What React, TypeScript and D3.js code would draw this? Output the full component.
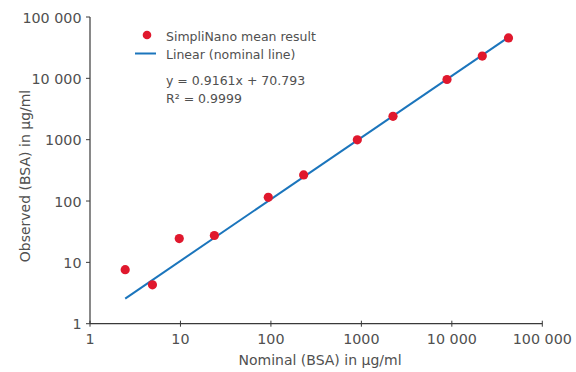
import React from "react";
import * as d3 from "d3";

const nominal = [2.45, 4.9, 9.7, 23.7, 93.5, 230, 902, 2237, 8840, 21700, 42300];
const observed = [7.6, 4.3, 24.4, 27.4, 115, 266, 995, 2405, 9570, 23100, 45600];
const lineX = [2.45, 42100];
const lineY = [2.57, 46500];
const xTicks = [1, 10, 100, 1000, 10000, 100000];
const yTicks = [1, 10, 100, 1000, 10000, 100000];
const legendLabels = ["SimpliNano mean result", "Linear (nominal line)"];
const equationLines = ["y = 0.9161x + 70.793", "R² = 0.9999"];

const RED = "#e0182d";
const BLUE = "#1b75bc";
const AXIS = "#3a3a3a";
const TEXT = "#505050";
const FONT = "'DejaVu Sans', sans-serif";

const fmt = (v: number) => (v >= 10000 ? d3.format(",")(v).replace(/,/g, " ") : String(v));

export default function App() {
  const W = 576, H = 372;
  const x = d3.scaleLog().domain([1, 100000]).range([90, 542.3]);
  const y = d3.scaleLog().domain([1, 100000]).range([323.7, 17]);
  const lineGen = d3.line<number>().x((d, i) => x(lineX[i])).y((d, i) => y(lineY[i]));
  return (
    <svg width={W} height={H} style={{ position: "absolute", left: 0, top: 0 }} fontFamily={FONT}>
      <rect width={W} height={H} fill="#fff" />
      {/* axes */}
      <line x1={x(1)} x2={x(100000)} y1={y(1)} y2={y(1)} stroke={AXIS} strokeWidth={1.2} />
      <line x1={x(1)} x2={x(1)} y1={y(1)} y2={y(100000)} stroke={AXIS} strokeWidth={1.2} />
      {xTicks.map((t) => (
        <g key={"x" + t}>
          <line x1={x(t)} x2={x(t)} y1={y(1) - 3} y2={y(1) + 3} stroke={AXIS} strokeWidth={1} />
          <text x={x(t)} y={343.5} textAnchor="middle" fontSize={14.3} fill={TEXT}>{fmt(t)}</text>
        </g>
      ))}
      {yTicks.map((t) => (
        <g key={"y" + t}>
          <line x1={x(1) - 4} x2={x(1)} y1={y(t)} y2={y(t)} stroke={AXIS} strokeWidth={1} />
          <text x={81.5} y={y(t) + 5.5} textAnchor="end" fontSize={14.3} fill={TEXT}>{fmt(t)}</text>
        </g>
      ))}
      <text x={320} y={364.5} textAnchor="middle" fontSize={14} fill={TEXT}>Nominal (BSA) in µg/ml</text>
      <text transform="translate(29.5,176) rotate(-90)" textAnchor="middle" fontSize={14} fill={TEXT}>Observed (BSA) in µg/ml</text>
      {/* fit line */}
      <path d={lineGen(lineX) || ""} fill="none" stroke={BLUE} strokeWidth={2} />
      {/* points */}
      {nominal.map((n, i) => (
        <circle key={i} cx={x(n)} cy={y(observed[i])} r={4.6} fill={RED} />
      ))}
      {/* legend */}
      <circle cx={147} cy={35} r={4.3} fill={RED} />
      <text x={166} y={40.5} fontSize={12.5} fill={TEXT}>{legendLabels[0]}</text>
      <line x1={135} x2={156} y1={53.5} y2={53.5} stroke={BLUE} strokeWidth={2} />
      <text x={166} y={58.5} fontSize={12.5} fill={TEXT}>{legendLabels[1]}</text>
      <text x={166} y={85} fontSize={12.5} fill={TEXT}>{equationLines[0]}</text>
      <text x={166} y={102.5} fontSize={12.5} fill={TEXT}>{equationLines[1]}</text>
    </svg>
  );
}
